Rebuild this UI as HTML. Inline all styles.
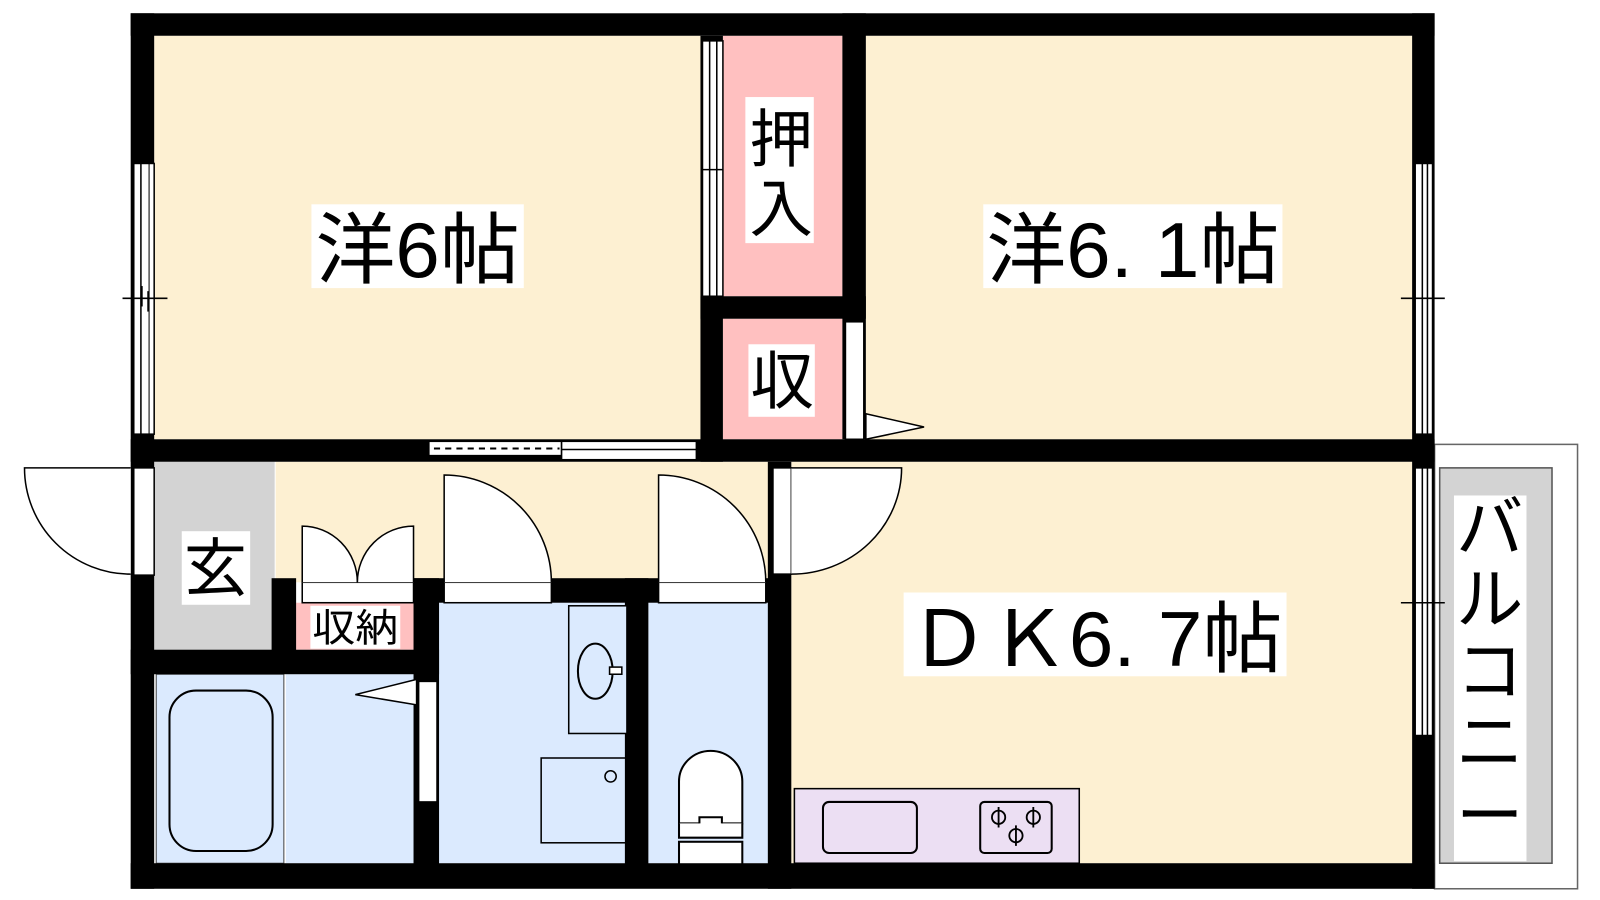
<!DOCTYPE html>
<html><head><meta charset="utf-8"><style>html,body{margin:0;padding:0;background:#fff}svg{display:block}text{font-family:"Liberation Sans","Noto Sans CJK JP",sans-serif;fill:#000}</style></head>
<body>
<svg width="1600" height="900" viewBox="0 0 1567 881" xmlns="http://www.w3.org/2000/svg" preserveAspectRatio="none">
<rect x="151" y="35" width="535" height="395" fill="#fdf0d2"/>
<rect x="848" y="35" width="535" height="395" fill="#fdf0d2"/>
<rect x="708" y="35" width="117" height="255" fill="#ffc0c0"/>
<rect x="708" y="312" width="117" height="118" fill="#ffc0c0"/>
<rect x="270" y="452" width="485" height="118" fill="#fdf0d2"/>
<rect x="151" y="452" width="118" height="185" fill="#d3d3d3"/>
<rect x="775" y="452" width="608" height="393" fill="#fdf0d2"/>
<rect x="153" y="660" width="125" height="185" fill="#dbeafe" stroke="#444" stroke-width="1"/>
<rect x="280" y="660" width="128" height="185" fill="#dbeafe"/>
<rect x="428" y="590" width="186" height="255" fill="#dbeafe"/>
<rect x="635" y="590" width="118" height="255" fill="#dbeafe"/>
<rect x="290" y="590" width="116" height="46" fill="#ffc0c0"/>
<rect x="1405" y="435" width="140" height="435" fill="#fff" stroke="#666" stroke-width="1.5"/>
<rect x="1410" y="458" width="110" height="387" fill="#d3d3d3" stroke="#555" stroke-width="1.5"/>
<g fill="#000">
<rect x="128" y="13" width="1277" height="22"/>
<rect x="128" y="13" width="23" height="857"/>
<rect x="1383" y="13" width="22" height="857"/>
<rect x="128" y="845" width="1277" height="25"/>
<rect x="128" y="430" width="1277" height="22"/>
<rect x="686" y="35" width="22" height="417"/>
<rect x="825" y="13" width="23" height="417"/>
<rect x="686" y="290" width="162" height="22"/>
<rect x="266" y="566" width="24" height="92"/>
<rect x="128" y="636" width="302" height="24"/>
<rect x="405" y="566" width="350" height="24"/>
<rect x="405" y="566" width="25" height="300"/>
<rect x="612" y="566" width="23" height="300"/>
<rect x="752" y="452" width="23" height="418"/>
</g>
<g fill="#fff" stroke="#000" stroke-width="1.5">
<rect x="131" y="160" width="20" height="265"/>
<line x1="138" y1="160" x2="138" y2="425"/><line x1="146" y1="160" x2="146" y2="425" stroke-width="1"/>
<line x1="120" y1="292" x2="164" y2="292"/><line x1="139" y1="280" x2="139" y2="300"/><line x1="145" y1="285" x2="145" y2="305"/>
<rect x="1386" y="160" width="17" height="265"/>
<line x1="1393" y1="160" x2="1393" y2="425"/><line x1="1398" y1="160" x2="1398" y2="425"/>
<line x1="1372" y1="292" x2="1415" y2="292"/>
<rect x="1386" y="458" width="17" height="262"/>
<line x1="1393" y1="458" x2="1393" y2="720"/><line x1="1398" y1="458" x2="1398" y2="720"/>
<line x1="1372" y1="590" x2="1415" y2="590"/>
<rect x="688" y="40" width="20" height="250"/>
<line x1="695" y1="40" x2="695" y2="290"/><line x1="702" y1="40" x2="702" y2="290"/>
<line x1="688" y1="166" x2="708" y2="166"/>
<rect x="828" y="315" width="18" height="115"/>
<polygon points="848,405 905,418 848,430"/>
<rect x="420" y="432" width="130" height="14"/>
<rect x="550" y="432" width="132" height="18"/>
<line x1="550" y1="440" x2="682" y2="440"/>
<line x1="425" y1="439" x2="548" y2="439" stroke-dasharray="6,5" stroke-width="2"/>
<rect x="131" y="458" width="20" height="105"/>
<path d="M128,458 L24,458 A104,104 0 0 0 128,562"/>
<rect x="757" y="458" width="18" height="104"/>
<path d="M775,458 L883,458 A108,104 0 0 1 775,562"/>
<rect x="435" y="570" width="105" height="20"/>
<path d="M435,570 L435,465 A105,105 0 0 1 540,570"/>
<rect x="645" y="570" width="105" height="20"/>
<path d="M645,570 L645,465 A105,105 0 0 1 750,570"/>
<rect x="296" y="570" width="109" height="20"/>
<path d="M296,570 L296,515 A54,55 0 0 1 350,570"/>
<path d="M405,570 L405,515 A55,55 0 0 0 350,570"/>
<rect x="410" y="667" width="18" height="118"/>
<polygon points="408,665 348,680 408,690"/>
</g>
<g fill="none" stroke="#000" stroke-width="2">
<rect x="166" y="676" width="101" height="157" rx="26"/>
<rect x="557" y="593" width="57" height="125" fill="#dbeafe" stroke-width="1.5"/>
<ellipse cx="583" cy="657" rx="17" ry="27"/>
<rect x="597" y="653" width="12" height="7" fill="#fff" stroke-width="1.5"/>
<rect x="530" y="742" width="84" height="83" stroke-width="1.5"/>
<circle cx="598" cy="760" r="5.5" stroke-width="1.5"/>
<path d="M665,806 L665,765 A31,30 0 0 1 727,765 L727,806 Z" fill="#fff"/>
<path d="M665,806 L665,820 L727,820 L727,806 M685,806 L685,800 L707,800 L707,806" fill="#fff"/>
<rect x="665" y="824" width="62" height="22" fill="#fff"/>
</g>
<rect x="778" y="772" width="279" height="73" fill="#ecdff3" stroke="#000" stroke-width="1.5"/>
<rect x="806" y="785" width="92" height="50" rx="6" fill="none" stroke="#000" stroke-width="2"/>
<rect x="960" y="785" width="70" height="50" rx="4" fill="none" stroke="#000" stroke-width="2"/>
<g fill="none" stroke="#000" stroke-width="1.8">
<circle cx="978" cy="800" r="6.5"/><circle cx="1012" cy="800" r="6.5"/><circle cx="995" cy="818" r="6.5"/>
<path d="M978,790V810M1012,790V810M995,808V828"/>
</g>
<g fill="#fff">
<rect x="305" y="200" width="208" height="82"/>
<rect x="963" y="200" width="293" height="82"/>
<rect x="885" y="580" width="375" height="82"/>
<rect x="730" y="95" width="67" height="143"/>
<rect x="733" y="337" width="65" height="71"/>
<rect x="178" y="520" width="67" height="72"/>
<rect x="304" y="593" width="88" height="42"/>
<rect x="1424" y="485" width="71" height="358"/>
</g>
<text x="309" y="271" font-size="76" textLength="200" lengthAdjust="spacingAndGlyphs">洋6帖</text>
<text x="966" y="271" font-size="76" textLength="287" lengthAdjust="spacingAndGlyphs">洋6. 1帖</text>
<text x="890" y="652" font-size="76" textLength="366" lengthAdjust="spacingAndGlyphs">ＤＫ6. 7帖</text>
<text x="734" y="158" font-size="62">押</text>
<text x="734" y="226" font-size="62">入</text>
<text x="735" y="395" font-size="62">収</text>
<text x="180" y="578" font-size="62">玄</text>
<text x="306" y="628" font-size="38" textLength="84" lengthAdjust="spacingAndGlyphs">収納</text>
<g font-size="66">
<text x="1426" y="540">バ</text>
<text x="1426" y="610">ル</text>
<text x="1426" y="680">コ</text>
<text x="1426" y="750">ニ</text>
<text x="1426" y="822">ー</text>
</g>
</svg>
</body></html>
